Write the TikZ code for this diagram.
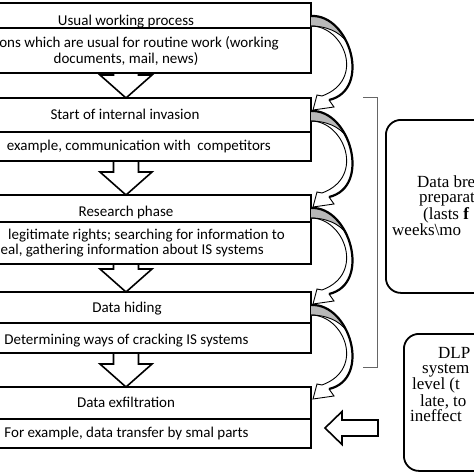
\documentclass[tikz,border=0pt]{standalone}
\usepackage{fontspec}
\setmainfont{Carlito}
\newfontfamily\seriffont{Liberation Serif}
\usetikzlibrary{calc}
\begin{document}
\begin{tikzpicture}[x=1pt,y=-1pt,
  row/.style={draw, line width=1.6pt, minimum width=370pt, inner sep=0pt, outer sep=0pt},
  lab/.style={font=\fontsize{15}{17}\selectfont, inner sep=0pt, anchor=base},
  labr/.style={font=\fontsize{15}{17}\selectfont, inner sep=0pt, anchor=base east},
  rlab/.style={font=\seriffont\fontsize{17}{15.2}\selectfont, inner sep=0pt, anchor=north west, align=left},
  blk/.style={draw, line width=1.6pt, fill=white, line join=miter},
  rbox/.style={draw, line width=1.8pt, rounded corners=15pt, inner sep=0pt, anchor=north west, minimum width=160pt},
  bandfill/.style={fill=white},
  shade/.style={fill=black!28},
  thinline/.style={line width=0.9pt},
  thickline/.style={line width=2.2pt},
  bracket/.style={draw=black!60, line width=0.7pt}
]
\useasboundingbox (0,0) rectangle (474,474);
\clip (0,0) rectangle (474,474);

% box rows
\node[row, minimum height=25pt] (b1t) at (126,15.5) {};
\node[row, minimum height=45pt] (b1b) at (126,50.5) {};
\node[row, minimum height=34pt] (b2t) at (126,115) {};
\node[row, minimum height=29pt] (b2b) at (126,146.5) {};
\node[row, minimum height=27pt] (b3t) at (126,208.5) {};
\node[row, minimum height=42pt] (b3b) at (126,243) {};
\node[row, minimum height=31pt] (b4t) at (126,307.5) {};
\node[row, minimum height=30pt] (b4b) at (126,338) {};
\node[row, minimum height=32pt] (b5t) at (126,403) {};
\node[row, minimum height=29pt] (b5b) at (126,433.5) {};

% block arrows between stages
\foreach \a/\b in {b1b/b2t, b2b/b3t, b3b/b4t, b4b/b5t} {
  \draw[blk] let \p1=(\a.south), \p2=(\b.north) in
    (\x1-12.5pt,\y1) -- (\x1-12.5pt,\y2+23pt) -- (\x1-26pt,\y2+23pt) -- (\x2,\y2)
    -- (\x1+26pt,\y2+23pt) -- (\x1+12.5pt,\y2+23pt) -- (\x1+12.5pt,\y1);
}
% redraw row borders on top
\foreach \n in {b1t,b1b,b2t,b2b,b3t,b3b,b4t,b4b,b5t,b5b} {
  \draw[line width=1.6pt] (\n.north west) rectangle (\n.south east);
}

% curved return arrows
\foreach \a/\b in {b1t/b2t, b2t/b3t, b3t/b4t, b4t/b5t} {
  \path[bandfill]
    ($(\a.north east)+(0,13)$) .. controls ($(\a.north east)+(39,11)$) and ($(\b.north east)+(61,-8)$) .. ($(\b.north east)+(18,2)$)
    -- ($(\b.north east)+(23,9)$) -- ($(\b.north east)+(2,12)$) -- ($(\b.north east)+(6,-3)$) -- ($(\b.north east)+(11,-2)$)
    .. controls ($(\b.north east)+(55,-18)$) and ($(\a.north east)+(33,23)$) .. ($(\a.north east)+(0,23)$) -- cycle;
  \fill[shade]
    ($(\a.north east)+(0,13)$) .. controls ($(\a.north east)+(15.6,12.2)$) and ($(\a.north east)+(28.5,23.9)$) .. ($(\a.north east)+(35.6,38.8)$)
    .. controls ($(\a.north east)+(28,28)$) and ($(\a.north east)+(14,23)$) .. ($(\a.north east)+(0,23)$) -- cycle;
  \draw[thinline, line join=miter]
    ($(\b.north east)+(18,2)$)
    -- ($(\b.north east)+(23,9)$) -- ($(\b.north east)+(2,12)$) -- ($(\b.north east)+(6,-3)$) -- ($(\b.north east)+(11,-2)$)
    .. controls ($(\b.north east)+(55,-18)$) and ($(\a.north east)+(33,23)$) .. ($(\a.north east)+(0,23)$);
  \draw[thinline]
    ($(\a.north east)+(35.6,38.8)$) .. controls ($(\a.north east)+(28,28)$) and ($(\a.north east)+(14,23)$) .. ($(\a.north east)+(0,23)$);
  \draw[thickline]
    ($(\a.north east)+(0,13)$) .. controls ($(\a.north east)+(39,11)$) and ($(\b.north east)+(61,-8)$) .. ($(\b.north east)+(18,2)$);
}

% stage texts
\node[lab] (t1) at (126,25) {Usual working process};
\node[labr] (t1a) at (279,47) {ons which are usual for routine work (working};
\node[lab] (t1b) at (126,63) {documents, mail, news)};
\node[lab] (t2) at (125,119) {Start of internal invasion};
\node[labr] (t2a) at (271,150) {example, communication with~ competitors};
\node[lab] (t3) at (126,216) {Research phase};
\node[labr] (t3a) at (285,239) {legitimate rights; searching for information to};
\node[labr] (t3b) at (264,254) {eal, gathering information about IS systems};
\node[lab] (t4) at (127,312) {Data hiding};
\node[lab] (t4a) at (126.5,344) {Determining ways of cracking IS systems};
\node[lab] (t5) at (126,407) {Data exfiltration};
\node[lab] (t5a) at (126.5,437) {For example, data transfer by smal parts};

% bracket
\draw[bracket] (363,97) -- (377,97) -- (377,367) -- (363,367);

% right boxes
\node[rbox, minimum height=173pt] (prep) at (385,119) {};
\node[rlab] (ptext) at (392,175.4) {\hspace*{25pt}Data bre\\ \hspace*{27pt}preparat\\ \hspace*{31pt}(lasts \textbf{f}\\ weeks\textbackslash mo};

\node[rbox, minimum height=137pt] (dlp) at (403,333) {};
\node[rlab] (dtext) at (410,346.8) {\hspace*{28pt}DLP\\ \hspace*{12pt}system\\ \hspace*{2pt}level (t\\ \hspace*{10pt}late, to\\ ineffect};

% DLP arrow pointing to the exfiltration stage
\draw[blk] ($(b5b.east)+(14,-5.5)$) -- ++(17,-16.5) -- ++(0,8.5) -- ++(36,0) -- ++(0,16)
  -- ++(-36,0) -- ++(0,8.5) -- cycle;
\end{tikzpicture}
\end{document}
